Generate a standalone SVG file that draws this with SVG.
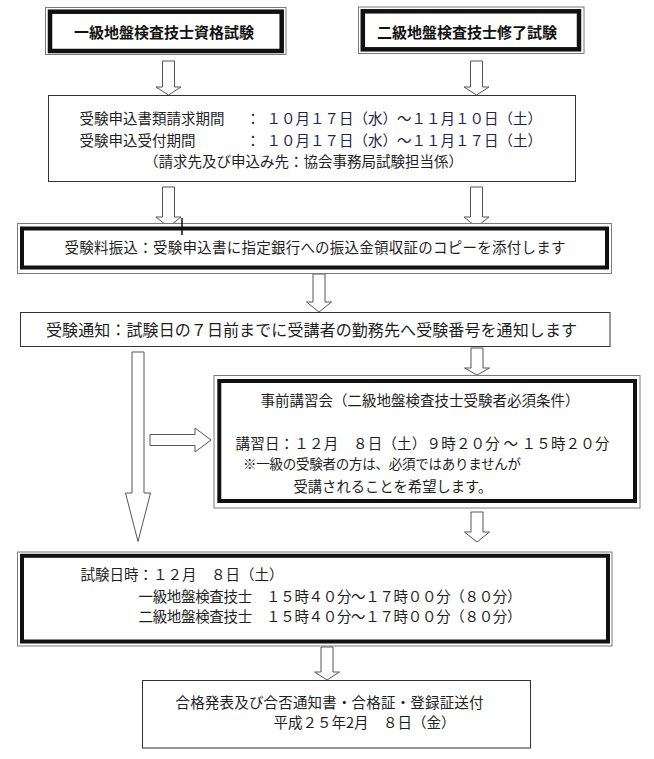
<svg xmlns="http://www.w3.org/2000/svg" width="654" height="759" viewBox="0 0 654 759">
<style>
.bg{fill:#ffffff}
.thin{fill:#ffffff;stroke:#333333;stroke-width:1}
.outer{fill:#ffffff;stroke:#7a7a7a;stroke-width:1}
.thick{fill:none;stroke:#111111;stroke-width:4}
.arrow{fill:#ffffff;stroke:#555555;stroke-width:1;stroke-linejoin:miter}
.t{font-family:"Noto Sans CJK JP","Noto Sans CJK SC",sans-serif;font-size:14.5px;fill:#1e1e1e}
.b{font-weight:bold;font-size:15px;fill:#111111}
.d{fill:#23234a}
</style>
<rect class="bg" x="0" y="0" width="654" height="759"/>

<g id="connectors">
  <path class="arrow" d="M162.5,61 H174.5 V87 H181 L168.5,95 L156,87 H162.5 Z"/>
  <path class="arrow" d="M470.5,61 H482.5 V87 H489 L476.5,95 L464,87 H470.5 Z"/>
  <path class="arrow" d="M162.5,187 H174.5 V217 H181 L168.5,227 L156,217 H162.5 Z"/>
  <path class="arrow" d="M470.5,187 H482.5 V217 H489 L476.5,227 L464,217 H470.5 Z"/>
  <path class="arrow" d="M313,274 H325 V302 H331.5 L319,312 L306.5,302 H313 Z"/>
  <path class="arrow" d="M471,348 H483 V368 H489.5 L477,375 L464.5,368 H471 Z"/>
  <path class="arrow" d="M132,352 H144 V493 H150.5 L138,541.5 L125.5,493 H132 Z"/>
  <path class="arrow" d="M150,434.5 H195 V428 L211,440 L195,452 V445.5 H150 Z"/>
  <path class="arrow" d="M471,512 H483 V532 H489.5 L477,542 L464.5,532 H471 Z"/>
  <path class="arrow" d="M321,647 H333 V672 H339.5 L327,680 L314.5,672 H321 Z"/>
</g>

<g id="node-ikkyu">
  <rect class="outer" x="45.5" y="7.5" width="240.5" height="47"/>
  <rect class="thick" x="50" y="11.7" width="231.7" height="39.3" style="stroke-width:4.5"/>
  <text class="t b" x="164" y="37.5" text-anchor="middle">一級地盤検査技士資格試験</text>
</g>

<g id="node-nikyu">
  <rect class="outer" x="358.5" y="7" width="225.5" height="46.5"/>
  <rect class="thick" x="362.8" y="11.3" width="216.2" height="38" style="stroke-width:4.5"/>
  <text class="t b" x="467" y="37.5" text-anchor="middle">二級地盤検査技士修了試験</text>
</g>

<g id="node-moushikomi">
  <rect class="thin" x="48.5" y="95.5" width="527" height="86"/>
  <text class="t" x="79.5" y="124.3">受験申込書類請求期間</text>
  <text class="t" x="245.8" y="124.3">：</text>
  <text class="t d" x="266.5" y="124.3">１０月１７日（水）～１１月１０日（土）</text>
  <text class="t" x="79.5" y="145.8">受験申込受付期間</text>
  <text class="t" x="245.8" y="145.8">：</text>
  <text class="t d" x="266.5" y="145.8">１０月１７日（水）～１１月１７日（土）</text>
  <text class="t" x="144" y="167.3">（請求先及び申込み先：協会事務局試験担当係）</text>
</g>

<g id="node-furikomi">
  <rect class="outer" x="17.5" y="223.5" width="594" height="50"/>
  <rect class="thick" x="22" y="228.5" width="585" height="39"/>
  <line x1="182" y1="218" x2="182" y2="235" stroke="#111111" stroke-width="1.5"/>
  <text class="t" x="64.5" y="253.4" textLength="501">受験料振込：受験申込書に指定銀行への振込金領収証のコピーを添付します</text>
</g>

<g id="node-tsuchi">
  <rect class="thin" x="20.5" y="312.5" width="589.5" height="34"/>
  <text class="t" x="46" y="335.9" style="font-size:16px" textLength="531">受験通知：試験日の７日前までに受講者の勤務先へ受験番号を通知します</text>
</g>

<g id="node-koshukai">
  <rect class="outer" x="214" y="375.5" width="426" height="132.5"/>
  <rect class="thick" x="219.3" y="381" width="415.7" height="120"/>
  <text class="t" x="260.5" y="406.4">事前講習会（二級地盤検査技士受験者必須条件）</text>
  <text class="t" x="235.5" y="449.4" textLength="374">講習日：１２月　８日（土）９時２０分 ～ １５時２０分</text>
  <text class="t" x="243" y="469.2" style="font-size:13.5px" textLength="278">※一級の受験者の方は、必須ではありませんが</text>
  <text class="t" x="293.5" y="491.8" style="font-size:14.3px">受講されることを希望します。</text>
</g>

<g id="node-shiken">
  <rect class="outer" x="17.5" y="552" width="594.5" height="94"/>
  <rect class="thick" x="22" y="555.8" width="586" height="85.7"/>
  <text class="t" x="80.5" y="579.7">試験日時：１２月　８日（土）</text>
  <text class="t" x="138.5" y="602" textLength="383">一級地盤検査技士　１５時４０分～１７時００分（８０分）</text>
  <text class="t" x="138.5" y="622" textLength="383">二級地盤検査技士　１５時４０分～１７時００分（８０分）</text>
</g>

<g id="node-happyo">
  <rect class="thin" x="142.5" y="680.5" width="388" height="67.5"/>
  <text class="t" x="175.5" y="708.4" textLength="308">合格発表及び合否通知書・合格証・登録証送付</text>
  <text class="t" x="273.5" y="728.4">平成２５年2月　８日（金）</text>
</g>
</svg>
